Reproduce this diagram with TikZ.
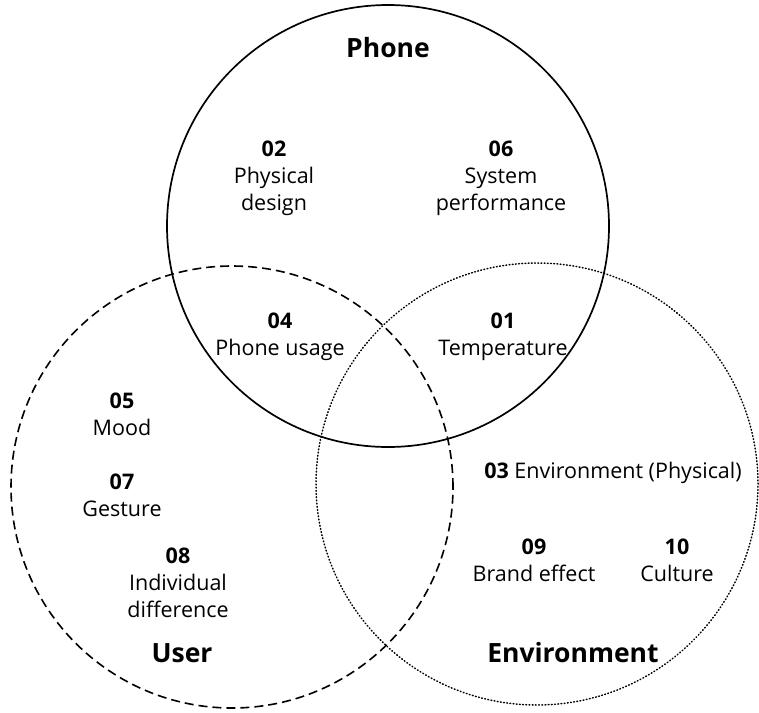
\documentclass[tikz,border=0pt]{standalone}
\usepackage{fontspec}
\setmainfont{Open Sans}
\begin{document}
\begin{tikzpicture}[x=1pt,y=-1pt,
  lbl/.style={align=center, font=\fontsize{21.5}{27}\selectfont, inner sep=0pt},
  ttl/.style={font=\fontsize{26.5}{30}\selectfont\bfseries, inner sep=0pt},
  ring/.style={circle, minimum size=442pt, inner sep=0pt}]
\useasboundingbox (0,0) rectangle (759,712);
\node[ring, draw, line width=1.7pt] (phone) at (388,226) {};
\node[ring, draw, line width=1.6pt, dash pattern=on 9pt off 5pt] (user) at (232,487) {};
\node[ring, draw, line width=1.5pt, line cap=round, dash pattern=on 0.8pt off 2.4pt] (env) at (537,484) {};
\node[ttl] (tphone) at (388,48) {Phone};
\node[ttl] (tuser) at (182,653) {User};
\node[ttl] (tenv) at (573,653) {Environment};
\node[lbl] (n02) at (274,178) {\textbf{02}\\Physical\\design};
\node[lbl] (n06) at (501,178) {\textbf{06}\\System\\performance};
\node[lbl] (n04) at (280,337) {\textbf{04}\\Phone usage};
\node[lbl] (n01) at (503,337) {\textbf{01}\\Temperature};
\node[lbl] (n05) at (122,414) {\textbf{05}\\Mood};
\node[lbl] (n07) at (122,495) {\textbf{07}\\Gesture};
\node[lbl] (n08) at (178,583) {\textbf{08}\\Individual\\difference};
\node[lbl] (n03) at (613,473) {\textbf{03} Environment (Physical)};
\node[lbl] (n09) at (534,560) {\textbf{09}\\Brand effect};
\node[lbl] (n10) at (677,560) {\textbf{10}\\Culture};
\end{tikzpicture}
\end{document}
